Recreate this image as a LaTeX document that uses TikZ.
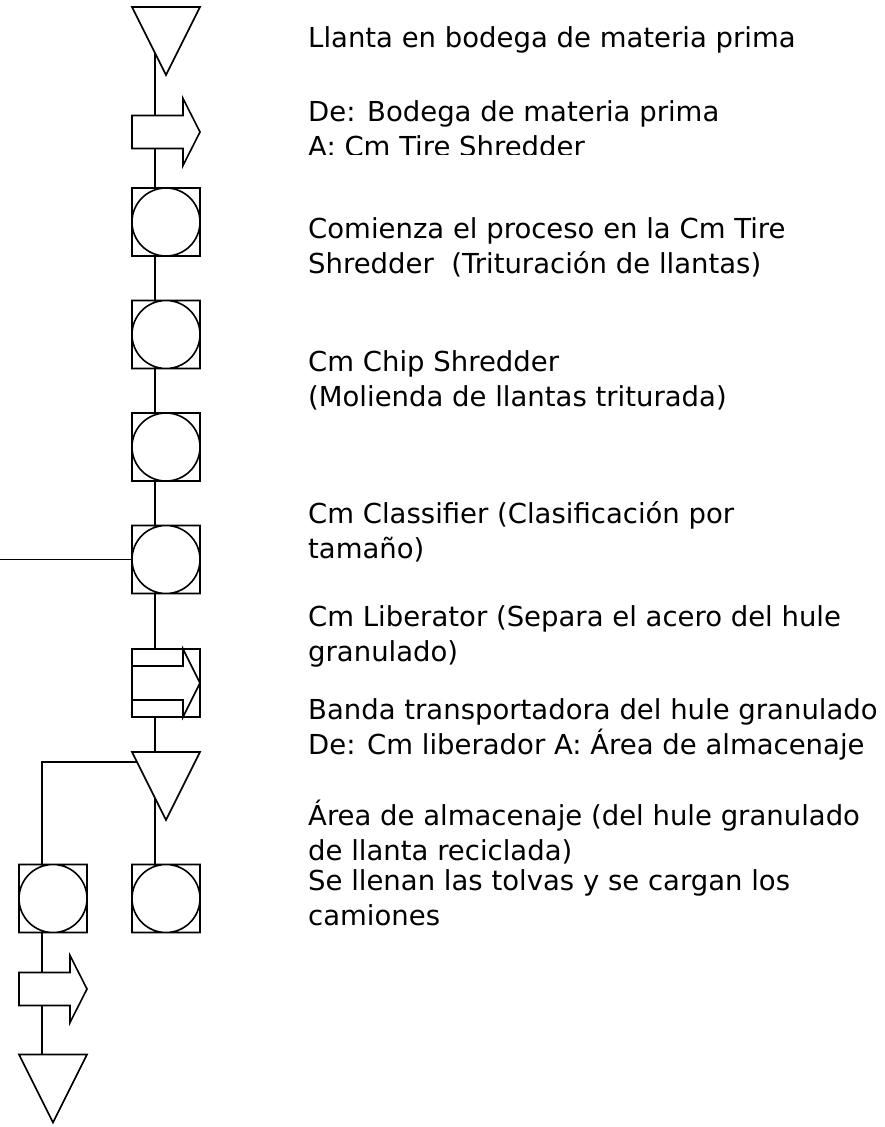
\documentclass[tikz,border=0pt]{standalone}
\usepackage{fontspec}
\setmainfont{DejaVu Sans}

\begin{document}
\begin{tikzpicture}[x=1pt, y=-1pt,
  simbolo/.style={minimum size=68pt, inner sep=0pt, outer sep=0pt},
  trazo/.style={draw=black, fill=white, line width=1.6pt},
  linea/.style={draw=black, line width=1.6pt},
  texto/.style={anchor=base west, align=left, inner sep=0pt,
    font=\fontsize{27.5}{35}\selectfont}]
\useasboundingbox (0,0) rectangle (884,1127);
% Place symbols
\node[simbolo] (t1) at (166,41) {};
\node[simbolo] (a1) at (166,132) {};
\node[simbolo] (o1) at (166,222) {};
\node[simbolo] (o2) at (166,334.5) {};
\node[simbolo] (o3) at (166,447) {};
\node[simbolo] (o4) at (166,559.5) {};
\node[simbolo] (c1) at (166,683) {};
\node[simbolo] (t2) at (166,786) {};
\node[simbolo] (o5) at (166,898.5) {};
\node[simbolo] (o6) at (53,898.5) {};
\node[simbolo] (a2) at (53,989) {};
\node[simbolo] (t3) at (53,1088.5) {};
\coordinate (izq) at (0,559.5);
% Draw connectors
\draw[linea] ([xshift=-11pt]t1.center) -- ([xshift=-11pt]a1.center)
  -- ([xshift=-11pt]o1.center) -- ([xshift=-11pt]o2.center)
  -- ([xshift=-11pt]o3.center) -- ([xshift=-11pt]o4.center)
  -- ([xshift=-11pt]c1.center) -- ([xshift=-11pt]t2.center)
  -- ([xshift=-11pt]o5.center);
\draw[linea] (izq) -- (o4.center);
\draw[linea] ([yshift=24pt]t2.center) -| ([xshift=-11pt]o6.center)
  -- ([xshift=-11pt]a2.center) -- ([xshift=-11pt]t3.center);
% Draw storage triangles
\foreach \n in {t1,t2,t3}
  \draw[trazo] (\n.north west) -- (\n.north east) -- (\n.south) -- cycle;
% Draw operations
\foreach \n in {o1,o2,o3,o4,o5,o6}
  \draw[trazo] (\n.north west) rectangle (\n.south east) (\n.center) circle[radius=34pt];
% Draw transport arrows
\foreach \n in {a1,a2}
  \draw[trazo, shift={(\n.center)}] (-34,-16.5) -- (17,-16.5) -- (17,-33.5)
    -- (34,0) -- (17,33.5) -- (17,16.5) -- (-34,16.5) -- cycle;
% Draw combined activity
\draw[trazo] (c1.north west) rectangle (c1.south east);
\draw[linea, shift={(c1.center)}] (-34,-17) -- (17,-17) -- (17,-34)
  -- (34,0) -- (17,34) -- (17,17) -- (-34,17);
% Labels (anchored at the baseline of their last line)
\node[texto] (x1) at (308,47.5) {Llanta en bodega de materia prima};
\begin{scope}
  \clip (300,80) rectangle (884,154);
  \node[texto] (x2) at (308,156.5) {De: Bodega de materia prima\\A: Cm Tire Shredder};
\end{scope}
\node[texto] (x3) at (308,273.5) {Comienza el proceso en la Cm Tire\\Shredder\ \ (Trituración de llantas)};
\node[texto] (x4) at (308,406.5) {Cm Chip Shredder\\(Molienda de llantas triturada)};
\node[texto] (x5) at (308,558.5) {Cm Classifier (Clasificación por\\tamaño)};
\node[texto] (x6) at (308,661.5) {Cm Liberator (Separa el acero del hule\\granulado)};
\node[texto] (x7) at (308,754.5) {Banda transportadora del hule granulado\\De: Cm liberador A: Área de almacenaje};
\node[texto] (x8) at (308,860.5) {Área de almacenaje (del hule granulado\\de llanta reciclada)};
\node[texto] (x9) at (308,925.5) {Se llenan las tolvas y se cargan los\\camiones};
\end{tikzpicture}
\end{document}
